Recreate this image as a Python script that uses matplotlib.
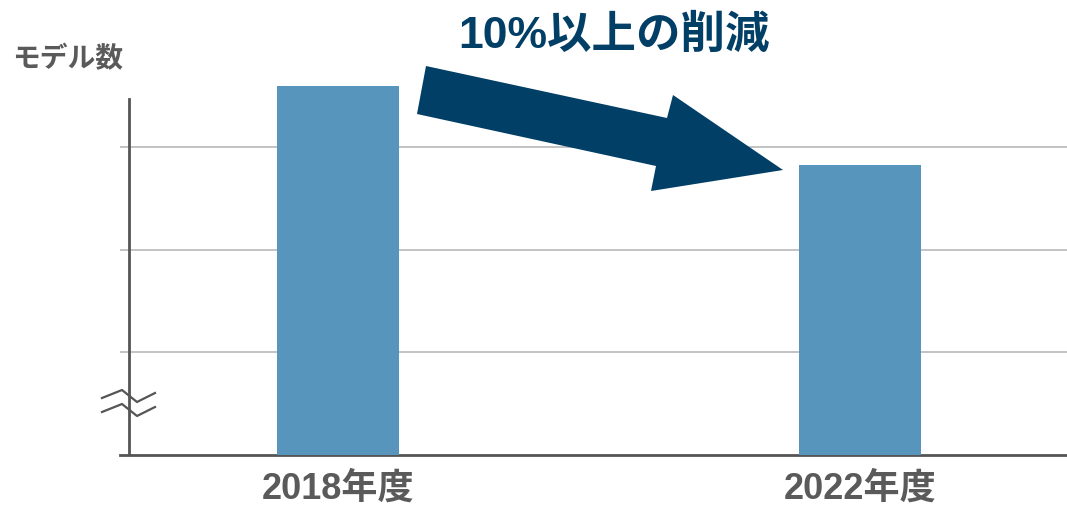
import matplotlib
matplotlib.use("Agg")
import matplotlib.pyplot as plt
from matplotlib.patches import Polygon
from matplotlib.lines import Line2D

# ---- data ----
categories = ["2018年度", "2022年度"]
values = [759, 682]
y_ticks = [500, 600, 700]
y_label = "モデル数"
annotation = "10%以上の削減"

BAR_COLOR = "#5895BC"
ARROW_COLOR = "#023F66"
TEXT_GRAY = "#5A5A5A"
GRID_GRAY = "#BEBEBE"
AXIS_GRAY = "#555555"
FONTS = ["Liberation Sans", "Noto Sans CJK JP", "DejaVu Sans"]
plt.rcParams["font.family"] = FONTS

W, H = 1067, 506
fig = plt.figure(figsize=(W / 100, H / 100), dpi=100)
ax = fig.add_axes([120 / W, 50 / H, (W - 120) / W, 376 / H])

x = [0, 1]
ax.bar(x, values, width=0.2337, color=BAR_COLOR, zorder=3)
ax.set_xlim(-0.4176, 1.3966)
ax.set_ylim(400, 766.2)

ax.set_yticks(y_ticks)
ax.set_yticklabels([])
ax.tick_params(axis="y", length=0)
ax.grid(axis="y", color=GRID_GRAY, linewidth=1.3, zorder=0)
ax.set_axisbelow(True)

ax.set_xticks(x)
ax.set_xticklabels(categories, fontsize=26, fontweight="bold", color=TEXT_GRAY)
ax.tick_params(axis="x", length=0, pad=11)

for s in ["top", "right", "left"]:
    ax.spines[s].set_visible(False)
ax.spines["bottom"].set_color(AXIS_GRAY)
ax.spines["bottom"].set_linewidth(2)
ax.axvline(-0.4004, ymin=0, ymax=0.9468, color=AXIS_GRAY, linewidth=2, zorder=4)

# y-axis label
fig.text(12 / W, 1 - 60 / H, y_label, fontsize=20, fontweight="bold",
         color=TEXT_GRAY, ha="left", va="center")

# annotation text
fig.text(614 / W, 1 - 36 / H, annotation, fontsize=32, fontweight="bold",
         color=ARROW_COLOR, ha="center", va="center")

# arrow polygon (figure pixels, y flipped)
arrow_px = [(426, 67), (667, 119), (673, 96), (783, 171), (651, 192), (656, 167), (417, 115)]
arrow = Polygon([(px / W, 1 - py / H) for px, py in arrow_px], closed=True,
                transform=fig.transFigure, facecolor=ARROW_COLOR, edgecolor="none", zorder=5)
fig.patches.append(arrow)

# axis break marks
for dy in (0, 14):
    pts = [(102, 399 + dy), (122, 391 + dy), (137, 403 + dy), (155, 394 + dy)]
    fig.lines.append(Line2D([p[0] / W for p in pts], [1 - p[1] / H for p in pts],
                            transform=fig.transFigure, color=AXIS_GRAY, linewidth=1.6))

fig.savefig("out.png", dpi=100)
